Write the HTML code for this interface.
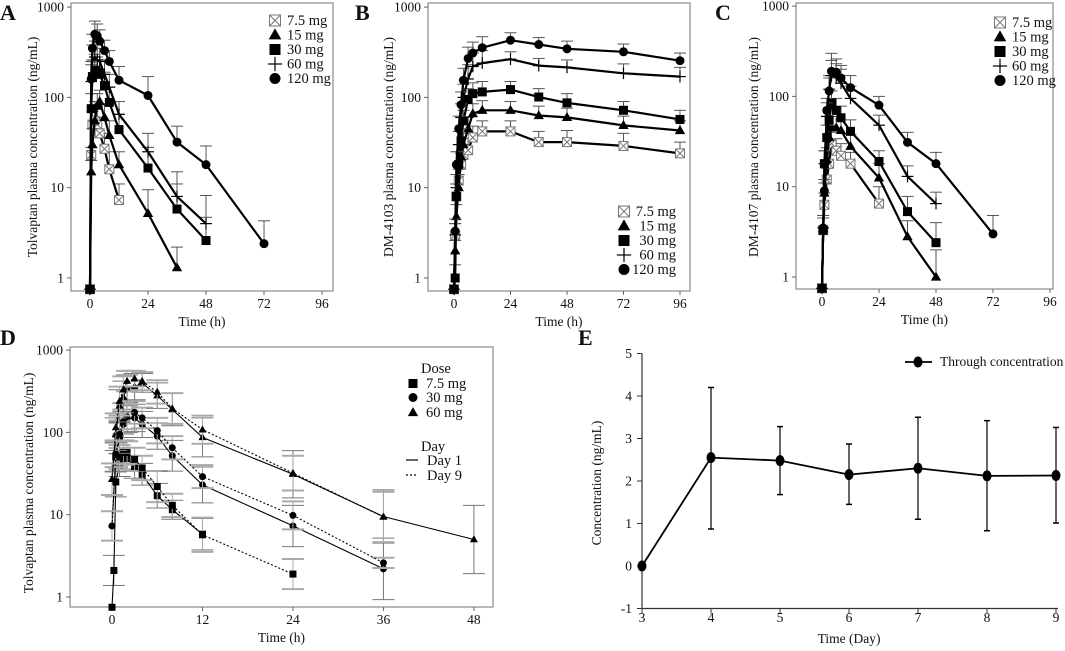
<!DOCTYPE html>
<html><head><meta charset="utf-8"><style>
html,body{margin:0;padding:0;background:#fff;}
svg{display:block;font-family:"Liberation Serif",serif;}
text{font-family:"Liberation Serif",serif;}
</style></head><body>
<svg id="fig" width="1065" height="651" viewBox="0 0 1065 651" xmlns="http://www.w3.org/2000/svg"></svg>
<script>
// ---------- Panel A data (Tolvaptan) ----------
const tA=[0,0.5,1,2,3,4,6,8,12,24,36,48,72];
const a75=[0.75,23,50,55,50,40,27,16,7.3];
const a75u=[null,28,70,90,80,60,40,25,11];
const a15=[0.75,15,30,55,80,90,60,38,18,5.2,1.3];
const a15u=[null,20,45,80,110,120,85,55,25,9.5,2.2];
const a30=[0.75,75,170,200,190,180,135,88,44,16.5,5.8,2.6];
const a30u=[null,110,260,300,280,260,190,130,65,28,11,4.7];
const a60=[0.75,150,250,280,260,250,180,130,65,25,8,4];
const a60u=[null,230,380,420,380,350,260,180,90,40,15,8.2];
const a120=[0.75,160,350,500,480,420,330,250,155,105,32,18,2.4];
const a120u=[null,250,500,700,650,560,430,330,220,170,48,29,4.3];
// ---------- Panel B data (DM-4103) ----------
const tB=[0,0.5,1,2,3,4,6,8,12,24,36,48,72,96];
const b75=[0.75,3,8,12,18,23,26,36,42,42,32,32,29,24];
const b75u=[null,4,11,16,24,30,35,48,55,55,42,43,40,32];
const b15=[0.75,2,4.8,10,22,30,45,66,72,72,63,60,49,43];
const b15u=[null,2.6,6.5,14,30,40,60,85,92,90,80,76,62,55];
const b30=[0.75,1,8,18,33,55,95,110,115,122,101,87,72,57];
const b30u=[null,1.4,11,25,45,72,125,145,150,150,125,110,90,72];
const b60=[0.75,3,10,30,60,100,160,220,240,265,225,215,185,170];
const b60u=[null,4,14,42,85,140,230,310,330,320,270,260,235,215];
const b120=[0.75,3.3,18,45,83,155,270,310,355,430,385,345,320,255];
const b120u=[null,4.5,25,62,115,210,360,410,470,520,460,420,390,310];
// ---------- Panel C data (DM-4107) ----------
const tC=[0,0.5,1,2,3,4,6,8,12,24,36,48,72];
const c75=[0.75,3.3,6.3,12,18,30,25,22,18,6.5];
const c75u=[null,4.5,8.5,16,25,40,34,30,24,10];
const c15=[0.75,3.5,8.5,20,35,45,45,42,28,12.5,2.8,1.0];
const c15u=[null,4.5,11,27,48,60,60,55,38,18,4.2,2.0];
const c30=[0.75,3.3,18,35,55,85,70,58,41,19,5.3,2.4];
const c30u=[null,4.5,25,48,75,115,95,78,55,25,7.8,4];
const c60=[0.75,3.5,18,60,120,170,160,140,95,48,13,6.5];
const c60u=[null,4.8,25,85,170,250,230,200,130,62,17,8.7];
const c120=[0.75,3.5,9,70,115,190,185,160,125,80,31,18,3.0];
const c120u=[null,4.8,12,95,160,300,260,220,170,100,40,24,4.8];
// ---------- Panel D data ----------
const tD75d1=[0,0.25,0.5,1,1.5,2,3,4,6,8,12];
const d75d1=[0.75,2.1,25,40,48,48,38,31,17,11.5,5.8];
const d75d1u=[null,3.2,38,55,65,65,52,42,24,15,9];
const tD75d9=[0.5,1,1.5,2,3,4,6,8,12,24];
const d75d9=[50,50,57,57,47,37,22,13,5.7,1.9];
const d75d9u=[75,70,80,78,65,52,34,18,9.2,2.9];
const tD30=[0,0.5,1,1.5,2,3,4,6,8,12,24,36];
const d30d1=[7.3,50,85,125,145,150,125,90,52,23,7.3,2.2];
const d30d1u=[11,75,130,180,210,220,180,130,80,38,13,5.2];
const d30d9=[7.3,55,95,135,155,175,150,105,65,29,9.8,2.6];
const d30d9u=[11,80,140,190,220,240,200,150,90,40,14.5,3];
const tD60=[0,0.5,1,1.5,2,3,4,6,8,12,24,36,48];
const d60d1=[27,95,210,270,340,360,400,280,190,87,31,9.5,5];
const d60d1u=[42,150,330,420,500,520,520,400,300,150,60,20,13];
const d60d9=[27,115,240,330,420,450,420,310,195,108,32,9.4];
const d60d9u=[42,170,360,480,560,560,540,430,300,160,52,19];
// ---------- Panel E data ----------
const eDays=[3,4,5,6,7,8,9];
const eVals=[0,2.55,2.48,2.15,2.3,2.12,2.13];
const eUp=[0,4.2,3.28,2.87,3.5,3.42,3.26];
const eLo=[0,0.87,1.68,1.45,1.1,0.83,1.01];
const logTicks=[1,10,100,1000];

const NS="http://www.w3.org/2000/svg";
const svg=document.getElementById('fig');
function mk(tag,attrs,parent){const e=document.createElementNS(NS,tag);for(const k in attrs)e.setAttribute(k,attrs[k]);(parent||svg).appendChild(e);return e;}
function txt(s,x,y,size,anchor,parent,extra){const e=mk('text',Object.assign({x:x,y:y,'font-size':size,'text-anchor':anchor||'middle',fill:'#111','font-family':'Liberation Serif, serif'},extra||{}),parent);e.textContent=s;return e;}

function marker(g,type,x,y,r,col){
  col=col||'#000';
  if(type==='circ')mk('circle',{cx:x,cy:y,r:r,fill:col},g);
  else if(type==='sq')mk('rect',{x:x-r,y:y-r,width:2*r,height:2*r,fill:col},g);
  else if(type==='tri')mk('polygon',{points:`${x},${y-r*1.2} ${x-r*1.15},${y+r*0.8} ${x+r*1.15},${y+r*0.8}`,fill:col},g);
  else if(type==='plus'){mk('line',{x1:x-r*1.3,y1:y,x2:x+r*1.3,y2:y,stroke:col,'stroke-width':1.2},g);mk('line',{x1:x,y1:y-r*1.3,x2:x,y2:y+r*1.3,stroke:col,'stroke-width':1.2},g);}
  else if(type==='xsq'){mk('rect',{x:x-r,y:y-r,width:2*r,height:2*r,fill:'#fff',stroke:'#777','stroke-width':1},g);mk('path',{d:`M${x-r} ${y-r}L${x+r} ${y+r}M${x+r} ${y-r}L${x-r} ${y+r}`,stroke:'#777','stroke-width':1},g);}
}

function logPanel(cfg){
  const g=mk('g',{});
  
  
  const X=t=>cfg.px0+t*cfg.ppx, Y=v=>cfg.py1-Math.log10(v)*cfg.dec;
  const fr=mk('rect',{x:cfg.bx0,y:cfg.by0,width:cfg.bx1-cfg.bx0,height:cfg.by1-cfg.by0,fill:'none',stroke:'#888','stroke-width':1.2},g);
  
  logTicks.forEach(v=>{mk('line',{x1:cfg.bx0-4,y1:Y(v),x2:cfg.bx0,y2:Y(v),stroke:'#666'},g);
    const t=txt(String(v),cfg.bx0-7,Y(v)+4.5,13.5,'end',g);});
  cfg.xticks.forEach(v=>{mk('line',{x1:X(v),y1:cfg.by1,x2:X(v),y2:cfg.by1+4,stroke:'#666'},g);
    const t=txt(String(v),X(v),cfg.by1+17,13.5,'middle',g);});
  const xl=txt('Time (h)',(cfg.bx0+cfg.bx1)/2,cfg.by1+35,13.5,'middle',g);
  const yl=txt(cfg.ylabel,0,0,13.5,'middle',g,{transform:`translate(${cfg.ylx},${cfg.yly}) rotate(-90)`});
  const pl=txt(cfg.letter,cfg.lx,cfg.ly,22,'start',g,{'font-weight':'bold'});
  cfg.series.forEach(s=>{
    const sg=mk('g',{},g);
    
    
    const ts=s.t||cfg.t;
    s.v.forEach((v,i)=>{const u=s.u&&s.u[i];if(u==null)return;const x=X(ts[i]);
      const c=s.ecol||'#555';
      mk('line',{x1:x,y1:Y(v),x2:x,y2:Y(u),stroke:c,'stroke-width':1},sg);
      mk('line',{x1:x-cfg.cap,y1:Y(u),x2:x+cfg.cap,y2:Y(u),stroke:c,'stroke-width':s.ew||1},sg);
      if(s.both){const lo=v*v/u;mk('line',{x1:x,y1:Y(v),x2:x,y2:Y(lo),stroke:c,'stroke-width':1},sg);
        mk('line',{x1:x-cfg.cap,y1:Y(lo),x2:x+cfg.cap,y2:Y(lo),stroke:c,'stroke-width':s.ew||1},sg);}
    });
    const pts=s.v.map((v,i)=>`${X(ts[i]).toFixed(1)},${Y(v).toFixed(1)}`).join(' ');
    const ln=mk('polyline',{points:pts,fill:'none',stroke:'#000','stroke-width':cfg.lw,'stroke-dasharray':s.dash||'none'},sg);
    
    s.v.forEach((v,i)=>marker(sg,s.m,X(ts[i]),Y(v),cfg.mr));
  });
  if(cfg.legend){const lg=mk('g',{},g);
    
    
    cfg.legend.forEach(e=>{
      if(e.m)marker(lg,e.m,e.mx,e.y-4.5,e.r||5.5);
      if(e.line){mk('line',{x1:e.mx-6,y1:e.y-5,x2:e.mx+6,y2:e.y-5,stroke:'#000','stroke-width':1.2,'stroke-dasharray':e.line},lg);}
      const t=txt(e.label,e.tx,e.y,14.5,e.anchor||'start',lg);
      
      
    });}
}
const leg5=(mx,tx,y0,dy,anchor)=>[['xsq','7.5 mg'],['tri','15 mg'],['sq','30 mg'],['plus','60 mg'],['circ','120 mg']].map((d,i)=>({m:d[0],label:d[1],mx:mx,tx:tx,y:y0+i*dy,anchor:anchor}));

logPanel({name:'panel-a-tolvaptan',letter:'A',lx:0,ly:20,bx0:71,bx1:333,by0:3,by1:291,px0:90,ppx:2.417,py1:278,dec:90.3,
  xticks:[0,24,48,72,96],ylabel:'Tolvaptan plasma concentration (ng/mL)',ylx:37,yly:147,lw:2.2,mr:4.5,cap:6,t:tA,
  series:[{name:'series-7.5mg',m:'xsq',v:a75,u:a75u},{name:'series-15mg',m:'tri',v:a15,u:a15u},{name:'series-30mg',m:'sq',v:a30,u:a30u},
    {name:'series-60mg',m:'plus',v:a60,u:a60u},{name:'series-120mg',m:'circ',v:a120,u:a120u}],
  legend:leg5(275,287,25,14.5)});
logPanel({name:'panel-b-dm4103',letter:'B',lx:355,ly:20,bx0:428,bx1:690,by0:3,by1:291,px0:454,ppx:2.354,py1:278,dec:90.3,
  xticks:[0,24,48,72,96],ylabel:'DM-4103 plasma concentration (ng/mL)',ylx:393,yly:147,lw:2.2,mr:4.5,cap:6,t:tB,
  series:[{name:'series-7.5mg',m:'xsq',v:b75,u:b75u},{name:'series-15mg',m:'tri',v:b15,u:b15u},{name:'series-30mg',m:'sq',v:b30,u:b30u},
    {name:'series-60mg',m:'plus',v:b60,u:b60u},{name:'series-120mg',m:'circ',v:b120,u:b120u}],
  legend:leg5(624,676,216,14.5,'end')});
logPanel({name:'panel-c-dm4107',letter:'C',lx:715,ly:20,bx0:796,bx1:1053,by0:3,by1:289,px0:822,ppx:2.375,py1:277,dec:90.3,
  xticks:[0,24,48,72,96],ylabel:'DM-4107 plasma concentration (ng/mL)',ylx:758,yly:147,lw:2.2,mr:4.5,cap:6,t:tC,
  series:[{name:'series-7.5mg',m:'xsq',v:c75,u:c75u},{name:'series-15mg',m:'tri',v:c15,u:c15u},{name:'series-30mg',m:'sq',v:c30,u:c30u},
    {name:'series-60mg',m:'plus',v:c60,u:c60u},{name:'series-120mg',m:'circ',v:c120,u:c120u}],
  legend:leg5(1000,1012,27,14.5)});
logPanel({name:'panel-d-tolvaptan-multiple',letter:'D',lx:0,ly:345,bx0:70,bx1:493,by0:347,by1:607,px0:112,ppx:7.54,py1:597,dec:82.3,
  xticks:[0,12,24,36,48],ylabel:'Tolvaptan plasma concentration (ng/mL)',ylx:33,yly:483,lw:1.1,mr:3.5,cap:11,
  series:[{name:'series-7.5mg-day1',m:'sq',t:tD75d1,v:d75d1,u:d75d1u,both:true,ecol:'#777'},
    {name:'series-7.5mg-day9',m:'sq',t:tD75d9,v:d75d9,u:d75d9u,both:true,dash:'2,2',ecol:'#aaa',ew:2},
    {name:'series-30mg-day1',m:'circ',t:tD30,v:d30d1,u:d30d1u,both:true,ecol:'#777'},
    {name:'series-30mg-day9',m:'circ',t:tD30,v:d30d9,u:d30d9u,both:true,dash:'2,2',ecol:'#aaa',ew:2},
    {name:'series-60mg-day1',m:'tri',t:tD60,v:d60d1,u:d60d1u,both:true,ecol:'#777'},
    {name:'series-60mg-day9',m:'tri',t:tD60,v:d60d9,u:d60d9u,both:true,dash:'2,2',ecol:'#aaa',ew:2}],
  legend:[{label:'Dose',tx:421,y:373},{m:'sq',label:'7.5 mg',mx:413,tx:426,y:388,r:4.5},{m:'circ',label:'30 mg',mx:413,tx:426,y:402,r:4.5},
    {m:'tri',label:'60 mg',mx:413,tx:426,y:417,r:4.5},{label:'Day',tx:421,y:451},{line:'none',label:'Day 1',mx:412,tx:427,y:465},{line:'2,2',label:'Day 9',mx:412,tx:427,y:480}]});

// ---------- Panel E ----------
(function(){
  const g=mk('g',{});
  
  
  const X=d=>642+(d-3)*69, Y=v=>566-v*42.5;
  mk('line',{x1:642,y1:Y(5),x2:642,y2:Y(-1),stroke:'#333','stroke-width':1.2},g);
  mk('line',{x1:642,y1:Y(-1),x2:1058,y2:Y(-1),stroke:'#333','stroke-width':1.2},g);
  [-1,0,1,2,3,4,5].forEach(v=>{mk('line',{x1:637,y1:Y(v),x2:642,y2:Y(v),stroke:'#333'},g);
    const t=txt(String(v),632,Y(v)+4.5,13.5,'end',g);});
  eDays.forEach(d=>{mk('line',{x1:X(d),y1:Y(-1),x2:X(d),y2:Y(-1)+5,stroke:'#333'},g);
    const t=txt(String(d),X(d),622,13.5,'middle',g);});
  const xl=txt('Time (Day)',X(6),643,13.5,'middle',g);
  const yl=txt('Concentration (ng/mL)',0,0,13.5,'middle',g,{transform:'translate(601,483) rotate(-90)'});
  const pl=txt('E',578,345,22,'start',g,{'font-weight':'bold'});
  eDays.forEach((d,i)=>{if(eUp[i]===eLo[i])return;const x=X(d);
    mk('line',{x1:x,y1:Y(eUp[i]),x2:x,y2:Y(eLo[i]),stroke:'#000','stroke-width':1.2},g);
    mk('line',{x1:x-3,y1:Y(eUp[i]),x2:x+3,y2:Y(eUp[i]),stroke:'#000','stroke-width':1.5},g);
    mk('line',{x1:x-3,y1:Y(eLo[i]),x2:x+3,y2:Y(eLo[i]),stroke:'#000','stroke-width':1.5},g);});
  const ln=mk('polyline',{points:eDays.map((d,i)=>`${X(d)},${Y(eVals[i])}`).join(' '),fill:'none',stroke:'#000','stroke-width':1.8},g);
  
  eDays.forEach((d,i)=>mk('ellipse',{cx:X(d),cy:Y(eVals[i]),rx:4.5,ry:5.5,fill:'#000'},g));
  const lg=mk('g',{},g);
  
  
  mk('line',{x1:905,y1:362,x2:932,y2:362,stroke:'#000','stroke-width':1.8},lg);
  mk('ellipse',{cx:918,cy:362,rx:4.5,ry:5.5,fill:'#000'},lg);
  const lt=txt('Through concentration',940,366,13.5,'start',lg);
  
  
})();
</script>
</body></html>
